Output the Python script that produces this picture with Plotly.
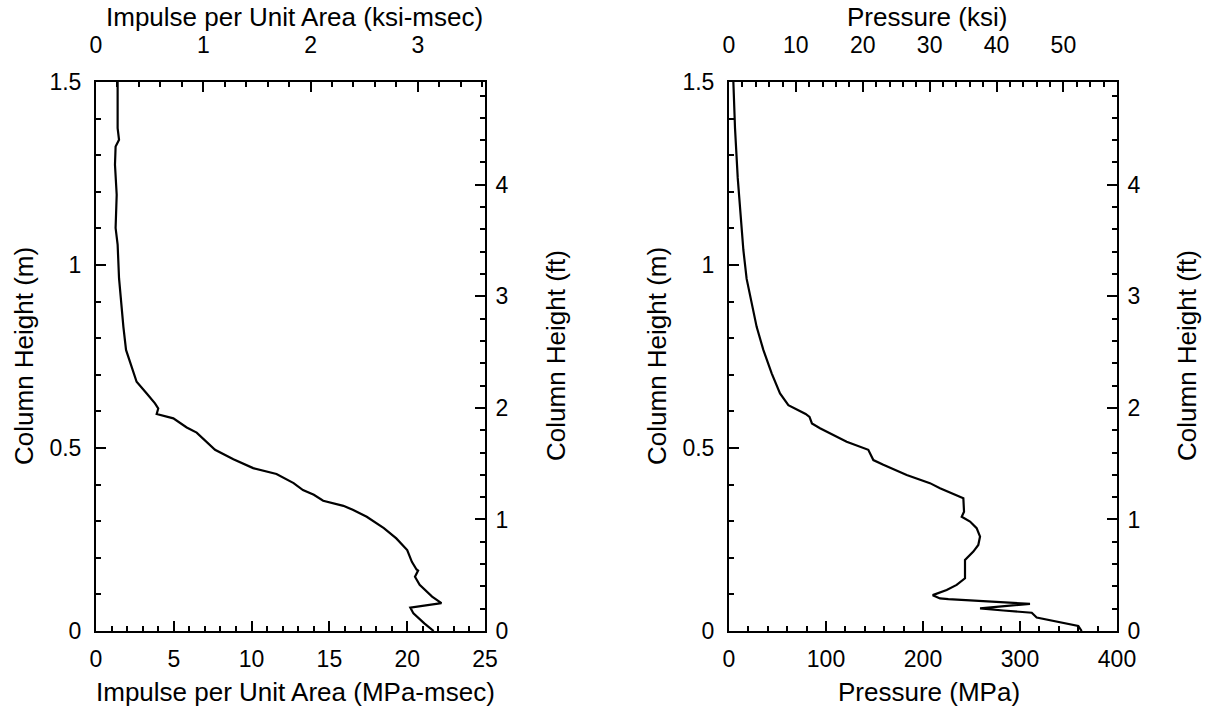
import plotly.graph_objects as go

# ---- data ----
# Left panel: impulse per unit area (MPa-msec) vs column height (m)
impulse_height_m = [1.5, 1.374, 1.342, 1.324, 1.274, 1.192, 1.101, 1.056, 0.964, 0.904,
                    0.831, 0.768, 0.722, 0.681, 0.649, 0.622, 0.608, 0.593, 0.581, 0.556,
                    0.542, 0.495, 0.469, 0.445, 0.429, 0.404, 0.385, 0.372, 0.356, 0.342,
                    0.331, 0.312, 0.281, 0.253, 0.221, 0.189, 0.168, 0.165, 0.148, 0.126,
                    0.094, 0.076, 0.064, 0.048, 0.021, 0.0]
impulse_mpa_ms = [1.39, 1.39, 1.48, 1.26, 1.22, 1.33, 1.26, 1.39, 1.48, 1.59,
                  1.76, 1.93, 2.29, 2.61, 3.26, 3.79, 4.0, 3.9, 4.97, 5.83,
                  6.47, 7.65, 8.83, 10.1, 11.6, 12.7, 13.3, 14.0, 14.6, 15.9,
                  16.5, 17.4, 18.5, 19.3, 20.0, 20.3, 20.6, 20.7, 20.5, 20.8,
                  21.6, 22.2, 20.2, 20.4, 21.1, 21.7]

# Right panel: pressure (MPa) vs column height (m)
pressure_height_m = [1.5, 1.374, 1.238, 1.101, 1.041, 0.962, 0.895, 0.831, 0.768, 0.704,
                     0.649, 0.617, 0.593, 0.585, 0.567, 0.554, 0.517, 0.495, 0.467, 0.454,
                     0.426, 0.404, 0.390, 0.372, 0.363, 0.326, 0.312, 0.299, 0.281, 0.258,
                     0.235, 0.217, 0.194, 0.144, 0.126, 0.112, 0.098, 0.089, 0.087, 0.074,
                     0.062, 0.056, 0.050, 0.037, 0.025, 0.014, 0.0]
pressure_mpa = [4.5, 6.2, 9.0, 13.0, 14.8, 18.2, 23.4, 28.5, 35.4, 44.0,
                52.6, 61.2, 79.0, 83.0, 85.5, 93.8, 121.3, 143.6, 148.8, 159.1,
                183.2, 207.2, 217.5, 234.7, 241.6, 242.3, 239.9, 248.5, 255.3, 258.8,
                257.0, 251.9, 243.3, 243.3, 234.7, 224.4, 210.0, 217.5, 226.1, 310.3,
                258.8, 282.8, 312.1, 317.2, 341.2, 360.1, 363.6]

# unit conversions (for secondary axes)
KSI_PER_MPA = 1 / 6.894757
FT_PER_M = 1 / 0.3048

FONT = "Liberation Sans, Arial, Helvetica, sans-serif"
TICK_SIZE = 23
TITLE_SIZE = 26
W, H = 1211, 715

def fx(px):
    return px / W

def fy(py):
    return 1 - py / H

fig = go.Figure()
# visible curves on the SI axes
fig.add_trace(go.Scatter(x=impulse_mpa_ms, y=impulse_height_m, mode="lines",
                         line=dict(color="black", width=2.2), xaxis="x", yaxis="y",
                         showlegend=False, hoverinfo="skip"))
fig.add_trace(go.Scatter(x=pressure_mpa, y=pressure_height_m, mode="lines",
                         line=dict(color="black", width=2.2), xaxis="x3", yaxis="y3",
                         showlegend=False, hoverinfo="skip"))
# same curves in US units on the secondary axes (invisible, they only carry the axes)
fig.add_trace(go.Scatter(x=[v * KSI_PER_MPA for v in impulse_mpa_ms],
                         y=[v * FT_PER_M for v in impulse_height_m], mode="lines",
                         line=dict(color="rgba(0,0,0,0)", width=0), xaxis="x2", yaxis="y2",
                         showlegend=False, hoverinfo="skip"))
fig.add_trace(go.Scatter(x=[v * KSI_PER_MPA for v in pressure_mpa],
                         y=[v * FT_PER_M for v in pressure_height_m], mode="lines",
                         line=dict(color="rgba(0,0,0,0)", width=0), xaxis="x4", yaxis="y4",
                         showlegend=False, hoverinfo="skip"))

def ax(rng, dtick, minor_dtick, **kw):
    d = dict(range=rng, dtick=dtick, tick0=0, showgrid=False, zeroline=False,
             showline=True, linewidth=2, linecolor="black", automargin=False,
             ticks="inside", ticklen=10, tickwidth=2, tickcolor="black",
             minor=dict(ticks="inside", ticklen=5, tickwidth=2, tickcolor="black",
                        dtick=minor_dtick, tick0=0, showgrid=False),
             tickfont=dict(family=FONT, size=TICK_SIZE, color="black"),
             fixedrange=True)
    d.update(kw)
    return d

dom1 = [fx(96), fx(485)]
dom2 = [fx(729), fx(1117)]
ydom = [fy(631), fy(82)]

fig.update_layout(
    width=W, height=H, autosize=False,
    margin=dict(l=0, r=0, t=0, b=0, pad=0, autoexpand=False),
    paper_bgcolor="white", plot_bgcolor="white",
    font=dict(family=FONT, color="black"),
    hovermode=False,
    # left panel
    xaxis=ax([0, 25], 5, 1, domain=dom1, anchor="y", side="bottom", ticklabelstandoff=6),
    xaxis2=ax([0, 25 * KSI_PER_MPA], 1, 0.2, domain=dom1, anchor="y2", side="top",
              overlaying="x", ticklabelstandoff=18),
    yaxis=ax([0, 1.5], 0.5, 0.1, domain=ydom, anchor="x", side="left", ticklabelstandoff=8),
    yaxis2=ax([0, 1.5 * FT_PER_M], 1, 0.2, domain=ydom, anchor="x2", side="right",
              overlaying="y", ticklabelstandoff=4),
    # right panel
    xaxis3=ax([0, 400], 100, 20, domain=dom2, anchor="y3", side="bottom", ticklabelstandoff=6),
    xaxis4=ax([0, 400 * KSI_PER_MPA], 10, 2, domain=dom2, anchor="y4", side="top",
              overlaying="x3", ticklabelstandoff=18),
    yaxis3=ax([0, 1.5], 0.5, 0.1, domain=ydom, anchor="x3", side="left", ticklabelstandoff=8),
    yaxis4=ax([0, 1.5 * FT_PER_M], 1, 0.2, domain=ydom, anchor="x4", side="right",
              overlaying="y3", ticklabelstandoff=4),
)

def title(text, xpx, ypx, angle=0):
    fig.add_annotation(text=text, x=fx(xpx), y=fy(ypx), xref="paper", yref="paper",
                       showarrow=False, textangle=angle, xanchor="center", yanchor="middle",
                       font=dict(family=FONT, size=TITLE_SIZE, color="black"))

title("Impulse per Unit Area (MPa-msec)", 295, 692)
title("Impulse per Unit Area (ksi-msec)", 294, 17)
title("Column Height (m)", 24, 356, -90)
title("Column Height (ft)", 556, 356, -90)
title("Pressure (MPa)", 929, 692)
title("Pressure (ksi)", 927, 17)
title("Column Height (m)", 657, 356, -90)
title("Column Height (ft)", 1187, 356, -90)

fig.write_html(
    "out.html",
    config={"displayModeBar": False, "staticPlot": True},
    post_script="document.body.style.margin='0';document.body.style.overflow='hidden';",
)
